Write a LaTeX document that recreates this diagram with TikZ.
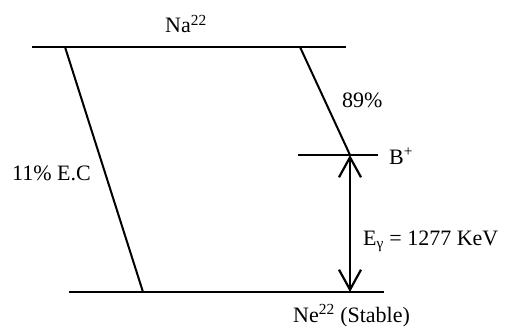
\documentclass[tikz,border=0pt]{standalone}
\usepackage{fontspec}
\setmainfont{Liberation Serif}
\usetikzlibrary{arrows.meta}
\begin{document}
\begin{tikzpicture}[x=1pt,y=-1pt,
  level/.style={line width=2pt},
  trans/.style={line width=2pt},
  lbl/.style={inner sep=0pt,font=\fontsize{22}{26}\selectfont},
  gam/.style={line width=2.2pt,{Straight Barb[length=20pt,width=22pt,line width=2.2pt]}-{Straight Barb[length=20pt,width=22pt,line width=2.2pt]}}]
\useasboundingbox (0,0) rectangle (508,326);
% levels
\coordinate (t1) at (32,47);
\coordinate (t2) at (346,47);
\coordinate (m1) at (298,155);
\coordinate (m2) at (378,155);
\coordinate (b1) at (69,292);
\coordinate (b2) at (384,292);
\draw[level] (t1) -- (t2);
\draw[level] (m1) -- (m2);
\draw[level] (b1) -- (b2);
% transitions
\coordinate (ls) at (65,47);
\coordinate (le) at (143,292);
\coordinate (rs) at (300,47);
\coordinate (re) at (350,155);
\coordinate (ge) at (350,292);
\draw[trans] (ls) -- (le);
\draw[trans] (rs) -- (re);
\draw[gam] (re) -- (ge);
% labels
\node[lbl,anchor=base] (na) at (186,33) {Na\textsuperscript{22}};
\node[lbl,anchor=base west] (p89) at (342,107) {89\%};
\node[lbl,anchor=base west] (bp) at (389,164) {B\textsuperscript{+}};
\node[lbl,anchor=base west] (eg) at (363,245) {E\textsubscript{γ} = 1277 KeV};
\node[lbl,anchor=base west] (ec) at (12,180) {11\% E.C};
\node[lbl,anchor=base west] (ne) at (293,322) {Ne\textsuperscript{22} (Stable)};
\end{tikzpicture}
\end{document}
